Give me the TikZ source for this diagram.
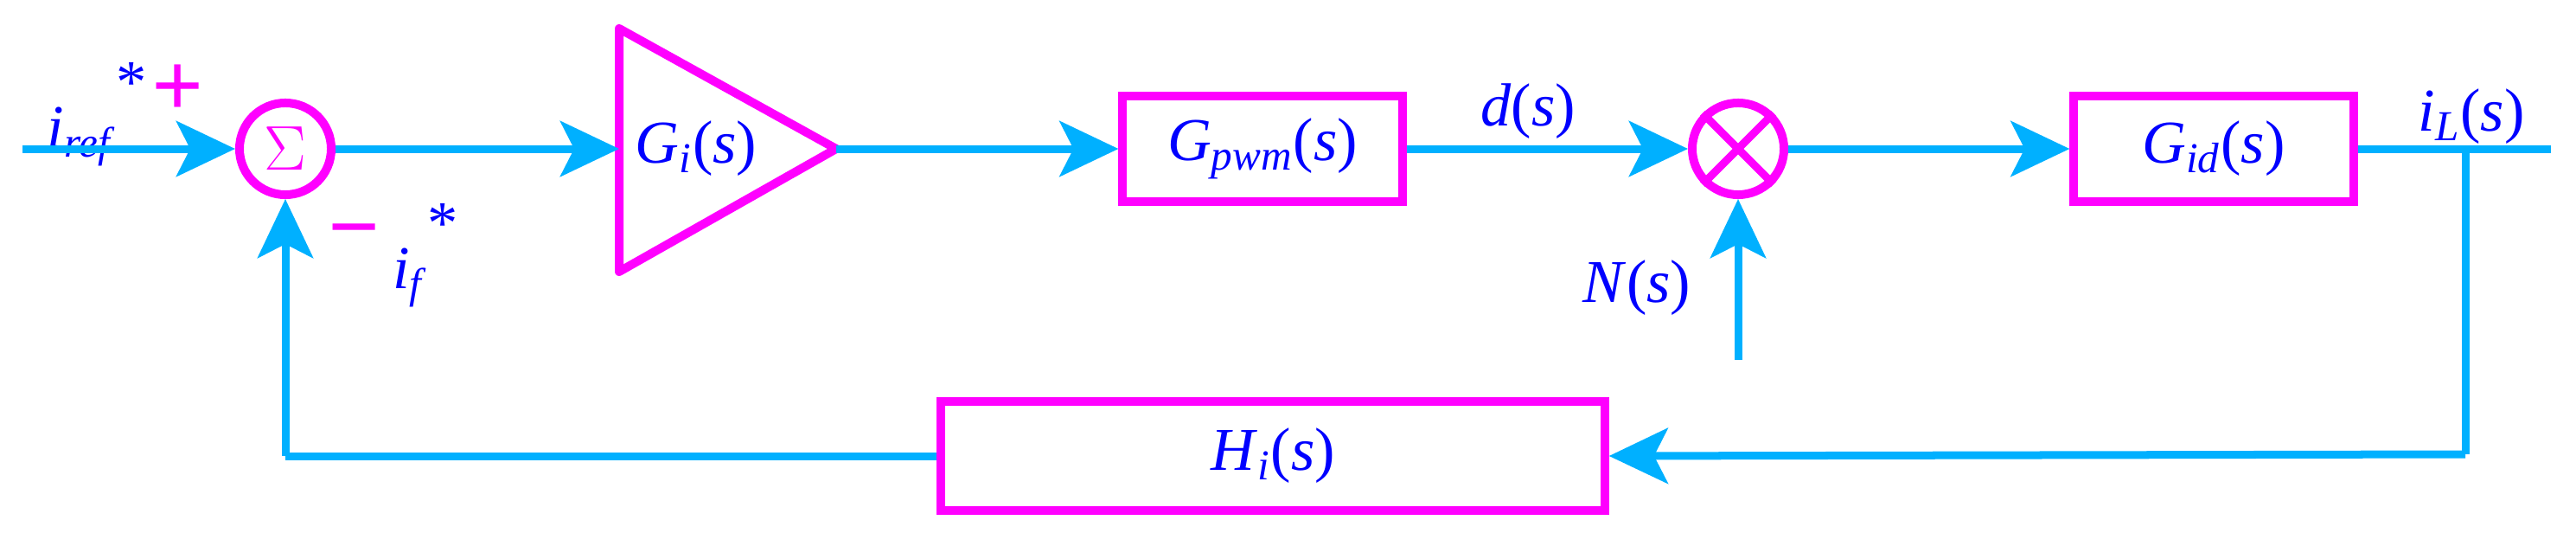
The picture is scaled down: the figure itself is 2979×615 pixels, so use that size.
\documentclass[tikz,border=0pt]{standalone}
\usepackage{fontspec}
\setmainfont{Liberation Serif}
\usetikzlibrary{arrows.meta}
\definecolor{ln}{HTML}{00B0FF}
\definecolor{mg}{HTML}{FF00FF}
\definecolor{tx}{HTML}{0000FF}
\newcommand\vi[1]{\textit{#1}}
\newcommand\vsub[1]{\textsubscript{\textit{#1}}}
\begin{document}
\begin{tikzpicture}[x=0.01cm,y=-0.01cm,
  wire/.style={draw=ln,line width=0.09cm},
  arr/.style={wire,-{Stealth[length=0.68cm,width=0.64cm,inset=0.16cm]}},
  blk/.style={draw=mg,line width=0.1cm,minimum height=1.22cm,inner sep=0pt},
  lbl/.style={text=tx,font=\fontsize{20}{24}\selectfont,inner sep=0pt},
  sgn/.style={text=mg,font=\fontsize{30}{30}\selectfont\bfseries,inner sep=0pt}]
\useasboundingbox (0,0) rectangle (2979,615);
% nodes
\coordinate (in) at (26,172);
\node[draw=mg,line width=0.1cm,circle,minimum size=1.06cm,inner sep=0pt,text=mg,font=\fontsize{20}{24}\selectfont] (sum) at (330,172) {$\Sigma$};
\coordinate (tl) at (716,33);
\coordinate (tb) at (716,314);
\coordinate (ta) at (967,172);
\coordinate (ti) at (716,172);
\draw[draw=mg,line width=0.1cm,line join=round] (tl) -- (ta) -- (tb) -- cycle;
\node[lbl] (gil) at (805,172) {\vi{G}\vsub{i}(\vi{s})};
\node[blk,minimum width=3.23cm] (gpwm) at (1460,172) {};
\node[lbl] at (gpwm) {\vi{G}\vsub{pwm}(\vi{s})};
\node[draw=mg,line width=0.1cm,circle,minimum size=1.06cm,inner sep=0pt] (mul) at (2010,172) {};
\draw[draw=mg,line width=0.09cm] (mul.45) -- (mul.225) (mul.135) -- (mul.315);
\node[blk,minimum width=3.23cm] (gid) at (2560,172) {};
\node[lbl] at (gid) {\vi{G}\vsub{id}(\vi{s})};
\coordinate (out) at (2950,172);
\coordinate (br) at (2851,172);
\coordinate (bc) at (2851,525);
\node[blk,minimum width=7.67cm,minimum height=1.25cm] (hi) at (1472,527) {};
\node[lbl] at (hi) {\vi{H}\vsub{i}(\vi{s})};
\coordinate (fb) at (330,527);
\coordinate (nin) at (2010,416);
% labels
\node[lbl] (iref) at (112,132) {\vi{i}\vsub{ref}\raisebox{1.6ex}{*}};
\node[sgn] (plus) at (206,105) {+};
\node[sgn] (minus) at (410,278) {\textminus};
\node[lbl] (if) at (492,295) {\vi{i}\vsub{f}\raisebox{1.6ex}{*}};
\node[lbl] (dl) at (1767,129) {\vi{d}(\vi{s})};
\node[lbl] (nl) at (1893,333) {\vi{N}(\vi{s})};
\node[lbl] (il) at (2858,135) {\vi{i}\vsub{L}(\vi{s})};
% wires
\draw[arr] (in) -- (sum);
\draw[arr] (sum) -- (ti);
\draw[arr] (ta) -- (gpwm);
\draw[arr] (gpwm) -- (mul);
\draw[arr] (mul) -- (gid);
\draw[wire] (gid) -- (out);
\draw[wire] (br) -- (bc);
\draw[arr] (bc) -- (hi.east);
\draw[wire] (hi.west) -- (fb);
\draw[arr] (fb) -- (sum);
\draw[arr] (nin) -- (mul);
\end{tikzpicture}
\end{document}
